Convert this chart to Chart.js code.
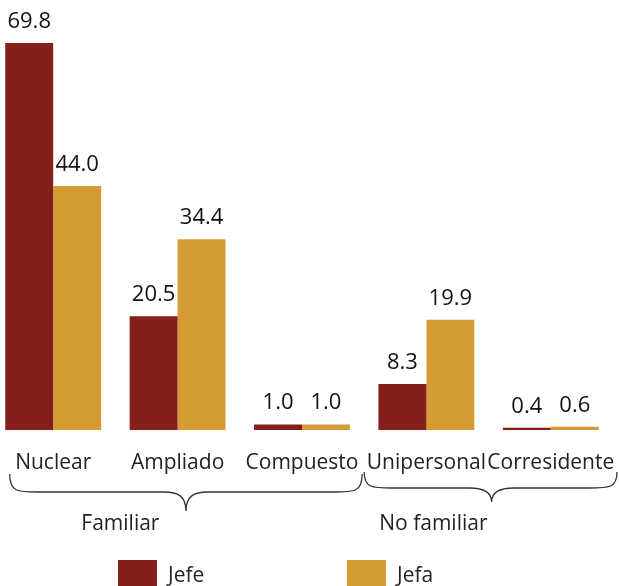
<!DOCTYPE html>
<html>
<head>
<meta charset="utf-8">
<script src="https://cdn.jsdelivr.net/npm/chart.js@4"></script>
<style>
  body { margin: 0; background: #fff; overflow: hidden; }
  #c { position: absolute; left: -9px; top: 0; }
</style>
</head>
<body>
<canvas id="c" width="640" height="586"></canvas>
<script>
const categories = ['Nuclear', 'Ampliado', 'Compuesto', 'Unipersonal', 'Corresidente'];
const jefe = [69.8, 20.5, 1.0, 8.3, 0.4];
const jefa = [44.0, 34.4, 1.0, 19.9, 0.6];
const seriesNames = ['Jefe', 'Jefa'];
const groups = ['Familiar', 'No familiar'];
const colors = ['#841f1b', '#d49c33'];
const FONT = '"Open Sans", sans-serif';

function brace(ctx, x1, x2, y0, yMid, yTip, xTip) {
    ctx.beginPath();
    ctx.moveTo(x1, y0);
    ctx.bezierCurveTo(x1, yMid, x1 + 8, yMid, x1 + 28, yMid);
    ctx.lineTo(xTip - 22, yMid);
    ctx.bezierCurveTo(xTip - 8, yMid, xTip, yMid + 4, xTip, yTip);
    ctx.bezierCurveTo(xTip, yMid + 4, xTip + 8, yMid, xTip + 22, yMid);
    ctx.lineTo(x2 - 28, yMid);
    ctx.bezierCurveTo(x2 - 8, yMid, x2, yMid, x2, y0);
    ctx.stroke();
}

const extras = {
    id: 'extras',
    afterDatasetsDraw(chart) {
        const ctx = chart.ctx;
        ctx.save();
        // value labels
        ctx.font = '22px ' + FONT;
        ctx.fillStyle = '#111';
        ctx.textAlign = 'center';
        ctx.textBaseline = 'alphabetic';
        chart.data.datasets.forEach((ds, di) => {
            chart.getDatasetMeta(di).data.forEach((bar, i) => {
                ctx.fillText(ds.data[i].toFixed(1), bar.x, bar.y - 15);
            });
        });
        // braces
        const x = chart.scales.x;
        const step = x.getPixelForValue(1) - x.getPixelForValue(0);
        const mid = x.getPixelForValue(2) + step / 2;
        ctx.strokeStyle = '#333';
        ctx.lineWidth = 1.3;
        const l1 = x.getPixelForValue(0) - 43.5, r1 = mid - 2;
        brace(ctx, l1, r1, 474, 492, 511, (l1 + r1) / 2);
        const l2 = mid, r2 = chart.chartArea.right + 4;
        brace(ctx, l2, r2, 472, 488, 502, (l2 + r2) / 2 + 1);
        // group labels
        ctx.font = '21px ' + FONT;
        ctx.fillStyle = '#222';
        ctx.fillText(groups[0], x.getPixelForValue(0) + step / 2 + 5, 530);
        ctx.fillText(groups[1], x.getPixelForValue(3) + 7, 530);
        // legend
        const lx = [127, 356];
        ctx.textAlign = 'left';
        seriesNames.forEach((n, i) => {
            ctx.fillStyle = colors[i];
            ctx.fillRect(lx[i], 560, 39, 26);
            ctx.fillStyle = '#222';
            ctx.fillText(n, lx[i] + 50, 582);
        });
        ctx.restore();
    }
};

new Chart(document.getElementById('c'), {
    type: 'bar',
    data: {
        labels: categories,
        datasets: [
            { label: seriesNames[0], data: jefe, backgroundColor: colors[0] },
            { label: seriesNames[1], data: jefa, backgroundColor: colors[1] }
        ]
    },
    options: {
        responsive: false,
        animation: false,
        layout: { padding: { top: 42, left: 0, right: 18, bottom: 0 } },
        datasets: { bar: { categoryPercentage: 0.771, barPercentage: 1 } },
        plugins: { legend: { display: false }, tooltip: { enabled: false } },
        scales: {
            x: {
                grid: { display: false },
                border: { display: false },
                ticks: { color: '#222', font: { family: FONT, size: 21 }, padding: 12, maxRotation: 0, autoSkip: false },
                afterFit: s => { s.height = 156; s.paddingLeft = 0; s.paddingRight = 0; }
            },
            y: { display: false, min: 0, max: 70 }
        }
    },
    plugins: [extras]
});
</script>
</body>
</html>
